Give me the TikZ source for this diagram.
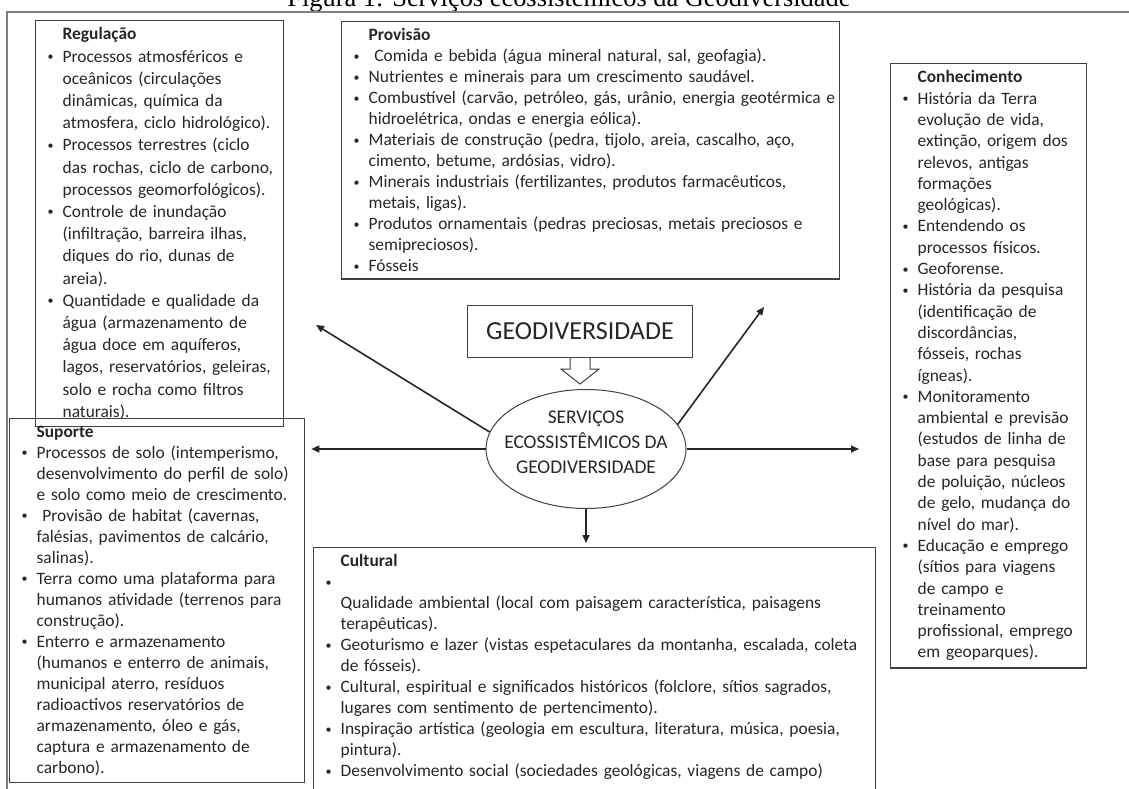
\documentclass[tikz,border=0pt]{standalone}
\usepackage{fontspec}
\setmainfont{Carlito}
\newfontfamily\capfont{Liberation Serif}
\usetikzlibrary{arrows.meta,positioning,shapes.geometric,calc}
\definecolor{ink}{HTML}{262626}
\definecolor{edge}{HTML}{404040}
\definecolor{rim}{HTML}{808080}
\newcommand{\txt}{\fontsize{17.4}{21}\selectfont}
\newcommand{\bul}{\raise1.5pt\hbox{\fontsize{12}{12}\selectfont\textbullet}}
\newcommand{\bi}[1]{\hbox{\hbox to 15pt{\bul\hss}#1}}
\newcommand{\cl}[1]{\hbox{\hskip15pt#1}}
\newcommand{\hd}[1]{\hbox{\hskip15pt\textbf{#1}}}
\tikzset{
  ebox/.style={draw=edge,line width=1.3pt,anchor=north west,inner xsep=12pt,inner ysep=7pt,text=ink,font=\txt,text width=#1,
    execute at begin node=\vbox\bgroup,execute at end node=\egroup},
  gbox/.style={draw=edge,line width=1pt,text=ink,minimum width=225pt,minimum height=52pt,font=\fontsize{26}{26}\selectfont},
  cbox/.style={ellipse,draw=edge,line width=1pt,text=ink,inner sep=0pt,minimum width=200pt,minimum height=119pt,font=\fontsize{19.4}{25}\selectfont},
  ar/.style={-{Triangle[length=8pt,width=7pt]},line width=1.6pt,draw=ink},
  hollow/.style={draw=edge,line width=1pt,fill=white,line join=miter},
}

\begin{document}
\begin{tikzpicture}[x=1pt,y=-1pt]
\useasboundingbox (0,0) rectangle (1129,789);
\node[font=\capfont\fontsize{26.4}{26.4}\selectfont,text=black,anchor=base] (cap) at (569,7) {Figura 1: Serviços ecossistêmicos da Geodiversidade};
\draw[rim,line width=1.5pt] (7,789) -- (7,12) -- (1129,12);

\node[ebox=224pt,font=\fontsize{17.4}{22.2}\selectfont] (reg) at (35,20) {\hd{Regulação}
\bi{Processos atmosféricos e}
\cl{oceânicos (circulações}
\cl{dinâmicas, química da}
\cl{atmosfera, ciclo hidrológico).}
\bi{Processos terrestres (ciclo}
\cl{das rochas, ciclo de carbono,}
\cl{processos geomorfológicos).}
\bi{Controle de inundação}
\cl{(infiltração, barreira ilhas,}
\cl{diques do rio, dunas de}
\cl{areia).}
\bi{Quantidade e qualidade da}
\cl{água (armazenamento de}
\cl{água doce em aquíferos,}
\cl{lagos, reservatórios, geleiras,}
\cl{solo e rocha como filtros}
\cl{naturais).}};

\node[ebox=474pt] (prov) at (341,21) {\hd{Provisão}
\bi{\ Comida e bebida (água mineral natural, sal, geofagia).}
\bi{Nutrientes e minerais para um crescimento saudável.}
\bi{Combustível (carvão, petróleo, gás, urânio, energia geotérmica e}
\cl{hidroelétrica, ondas e energia eólica).}
\bi{Materiais de construção (pedra, tijolo, areia, cascalho, aço,}
\cl{cimento, betume, ardósias, vidro).}
\bi{Minerais industriais (fertilizantes, produtos farmacêuticos,}
\cl{metais, ligas).}
\bi{Produtos ornamentais (pedras preciosas, metais preciosos e}
\cl{semipreciosos).}
\bi{Fósseis}};

\node[ebox=172pt,font=\fontsize{17.4}{21.3}\selectfont] (know) at (890,63) {\hd{Conhecimento}
\bi{História da Terra}
\cl{evolução de vida,}
\cl{extinção, origem dos}
\cl{relevos, antigas}
\cl{formações}
\cl{geológicas).}
\bi{Entendendo os}
\cl{processos físicos.}
\bi{Geoforense.}
\bi{História da pesquisa}
\cl{(identificação de}
\cl{discordâncias,}
\cl{fósseis, rochas}
\cl{ígneas).}
\bi{Monitoramento}
\cl{ambiental e previsão}
\cl{(estudos de linha de}
\cl{base para pesquisa}
\cl{de poluição, núcleos}
\cl{de gelo, mudança do}
\cl{nível do mar).}
\bi{Educação e emprego}
\cl{(sítios para viagens}
\cl{de campo e}
\cl{treinamento}
\cl{profissional, emprego}
\cl{em geoparques).}};

\node[ebox=271pt] (supp) at (9,418) {\hd{Suporte}
\bi{Processos de solo (intemperismo,}
\cl{desenvolvimento do perfil de solo)}
\cl{e solo como meio de crescimento.}
\bi{\ Provisão de habitat (cavernas,}
\cl{falésias, pavimentos de calcário,}
\cl{salinas).}
\bi{Terra como uma plataforma para}
\cl{humanos atividade (terrenos para}
\cl{construção).}
\bi{Enterro e armazenamento}
\cl{(humanos e enterro de animais,}
\cl{municipal aterro, resíduos}
\cl{radioactivos reservatórios de}
\cl{armazenamento, óleo e gás,}
\cl{captura e armazenamento de}
\cl{carbono).}};

\node[ebox=538pt] (cult) at (313,547) {\hd{Cultural}
\bi{}
\cl{Qualidade ambiental (local com paisagem característica, paisagens}
\cl{terapêuticas).}
\bi{Geoturismo e lazer (vistas espetaculares da montanha, escalada, coleta}
\cl{de fósseis).}
\bi{Cultural, espiritual e significados históricos (folclore, sítios sagrados,}
\cl{lugares com sentimento de pertencimento).}
\bi{Inspiração artística (geologia em escultura, literatura, música, poesia,}
\cl{pintura).}
\bi{Desenvolvimento social (sociedades geológicas, viagens de campo)}
\vskip30pt\hbox{}};

\node[cbox] (core) at (586,449) {\makebox[0pt]{\smash{\begin{tabular}{@{}c@{}}SERVIÇOS\\ECOSSISTÊMICOS DA\\GEODIVERSIDADE\end{tabular}}}};
\node[gbox,above=31pt of core,xshift=-6pt] (geo) {GEODIVERSIDADE};
\draw[hollow] ($(geo.south)+(-10,0)$) -- ++(0,11) -- ++(-9,0) -- ($(geo.south)+(0,26)$) -- ($(geo.south)+(19,11)$) -- ++(-9,0) -- ++(0,-11);

\coordinate (regtip) at (316,325);
\coordinate (provtip) at (764,307);
\draw[ar] (core.170) -- (regtip);
\draw[ar] (core.15) -- (provtip);
\draw[ar,shorten >=6pt] (core.west) -- (supp.east |- core.west);
\draw[ar,shorten >=31pt] (core.east) -- (know.west |- core.east);
\draw[ar,shorten >=4pt] (core.south) -- (cult.north -| core.south);
\end{tikzpicture}
\end{document}
